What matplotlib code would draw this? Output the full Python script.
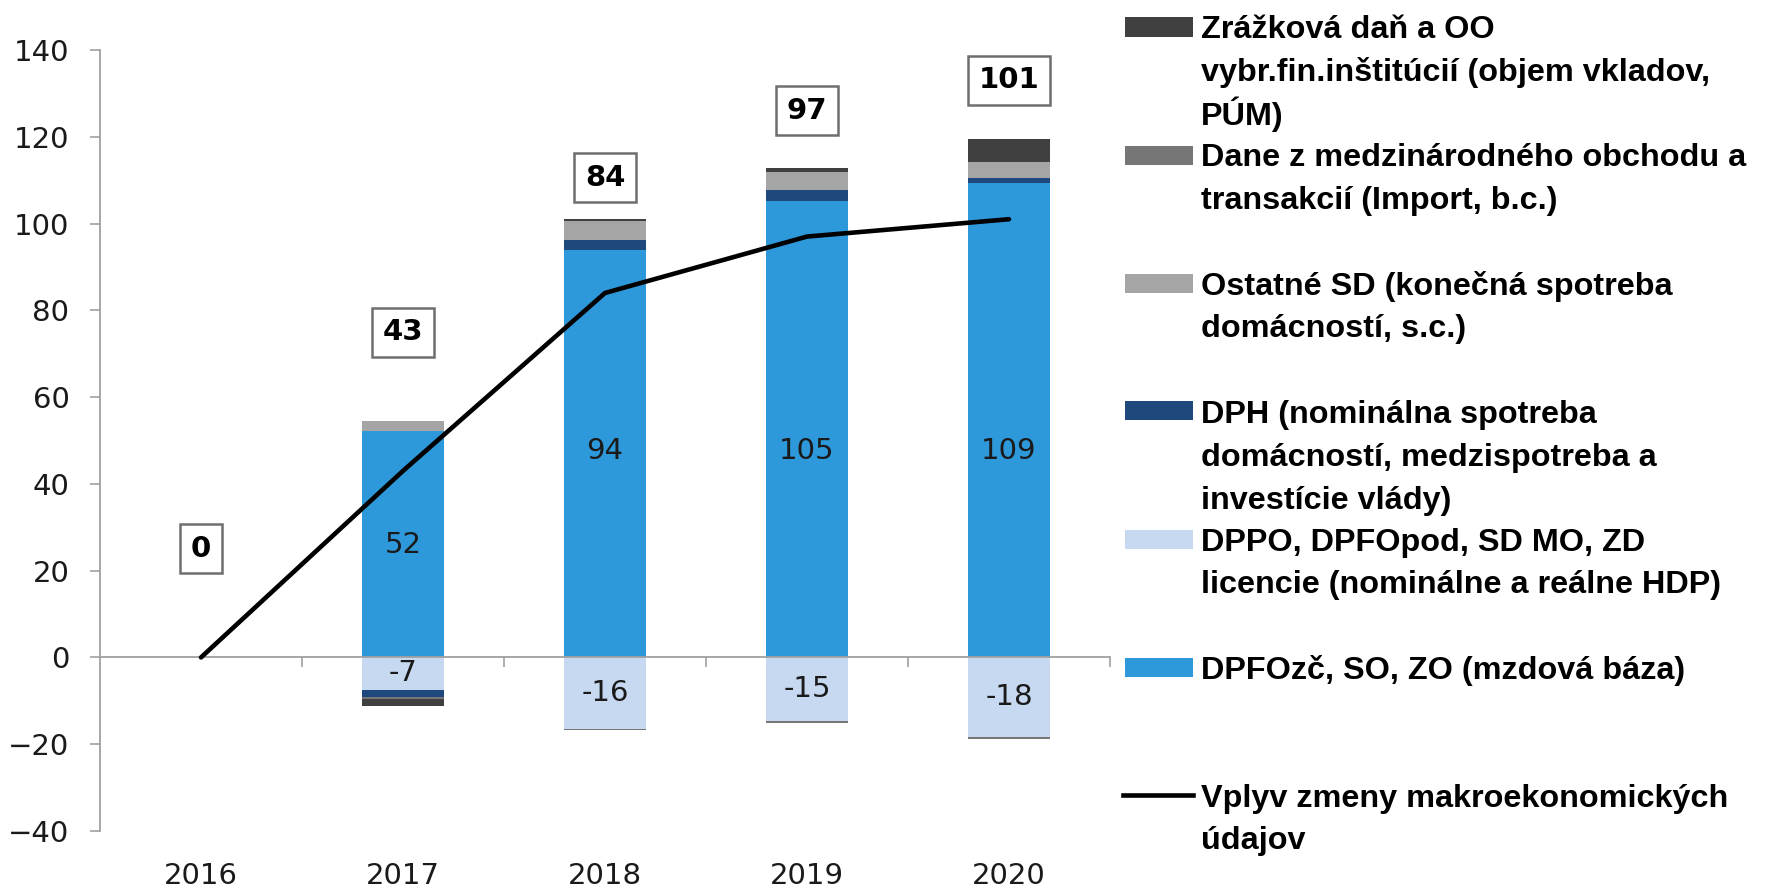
import matplotlib
matplotlib.use("Agg")
import matplotlib.pyplot as plt
from matplotlib.patches import Rectangle
from matplotlib.lines import Line2D
import numpy as np

# ---------------- data ----------------
years = ["2016", "2017", "2018", "2019", "2020"]
mzdova_baza = [0, 52.2, 93.9, 105.1, 109.4]          # DPFOzč, SO, ZO
hdp = [0, -7.4, -16.4, -14.7, -18.4]                   # DPPO, DPFOpod, SD MO, ZD licencie
dph = [0, -1.8, 2.4, 2.7, 1.2]                         # DPH
ostatne_sd = [0, 2.3, 4.4, 4.0, 3.6]                   # Ostatné SD
dane_obchod = [0, -0.4, -0.3, -0.3, -0.3]              # Dane z medzinárodného obchodu
zrazkova = [0, -1.7, 0.3, 0.9, 5.3]                    # Zrážková daň a OO
vplyv = [0, 43, 84, 97, 101]                           # Vplyv zmeny makro údajov
box_label_y = [25, 75, 110.5, 126, 133]
blue_label_y = [None, 26, 47.5, 47.5, 47.5]

legend_labels = {
    "zrazkova": ["Zrážková daň a OO", "vybr.fin.inštitúcií (objem vkladov,", "PÚM)"],
    "dane": ["Dane z medzinárodného obchodu a", "transakcií (Import, b.c.)"],
    "ostatne": ["Ostatné SD (konečná spotreba", "domácností, s.c.)"],
    "dph": ["DPH (nominálna spotreba", "domácností, medzispotreba a", "investície vlády)"],
    "hdp": ["DPPO, DPFOpod, SD MO, ZD", "licencie (nominálne a reálne HDP)"],
    "mzdy": ["DPFOzč, SO, ZO (mzdová báza)"],
    "line": ["Vplyv zmeny makroekonomických", "údajov"],
}

c_blue = "#2D98DA"
c_light = "#C6D9F1"
c_dph = "#1F497D"
c_ost = "#A5A5A5"
c_dane = "#767676"
c_zraz = "#404040"
axis_col = "#A0A0A0"
txt_col = "#1a1a1a"

W, H = 1773, 892
fig = plt.figure(figsize=(W / 100, H / 100), dpi=100)
ax = fig.add_axes([100 / W, 1 - 831 / H, 1010 / W, 781 / H])

x = np.arange(len(years))
bw = 0.405

pos_bottom = np.zeros(len(years))
neg_bottom = np.zeros(len(years))
containers = {}
for key, vals, col in [("mzdy", mzdova_baza, c_blue), ("hdp", hdp, c_light),
                       ("dph", dph, c_dph), ("ostatne", ostatne_sd, c_ost),
                       ("dane", dane_obchod, c_dane), ("zrazkova", zrazkova, c_zraz)]:
    v = np.array(vals, dtype=float)
    bottoms = np.where(v >= 0, pos_bottom, neg_bottom)
    containers[key] = ax.bar(x, v, bw, bottom=bottoms, color=col, linewidth=0, zorder=2)
    pos_bottom = pos_bottom + np.where(v > 0, v, 0)
    neg_bottom = neg_bottom + np.where(v < 0, v, 0)

# labels of the wage-base series (placed as in the original)
for xi, v, yl in zip(x, mzdova_baza, blue_label_y):
    if v != 0 and yl is not None:
        ax.text(xi, yl, f"{round(v):.0f}", ha="center", va="center",
                fontsize=21, color=txt_col, zorder=5)

labs = ["" if v == 0 else f"{round(v):.0f}" for v in hdp]
ax.bar_label(containers["hdp"], labels=labs, label_type="center",
             fontsize=21, color=txt_col, zorder=5)

ax.plot(x, vplyv, color="black", lw=3.3, zorder=4, solid_capstyle="round")

for xi, v, yl in zip(x, vplyv, box_label_y):
    ax.text(xi, yl, f"{v:.0f}", ha="center", va="center", fontsize=21,
            fontweight="bold", color="black", zorder=6,
            bbox=dict(boxstyle="square,pad=0.36", facecolor="white",
                      edgecolor="#6e6e6e", linewidth=1.8))

ax.set_xlim(-0.5, 4.5)
ax.set_ylim(-40, 140)
ax.set_yticks(np.arange(-40, 141, 20))
ax.set_xticks(x)
ax.set_xticklabels(years)
ax.set_xticks(np.arange(0.5, 4.6, 1.0), minor=True)

for s in ["top", "right"]:
    ax.spines[s].set_visible(False)
ax.spines["left"].set_color(axis_col)
ax.spines["left"].set_linewidth(1.3)
ax.spines["bottom"].set_position(("data", 0))
ax.spines["bottom"].set_color(axis_col)
ax.spines["bottom"].set_linewidth(1.3)

ax.tick_params(axis="y", direction="out", length=7, width=1.2, color=axis_col,
               labelsize=21, labelcolor=txt_col, pad=15)
ax.tick_params(axis="x", which="major", length=0, labelsize=21,
               labelcolor=txt_col, pad=147)
ax.tick_params(axis="x", which="minor", direction="out", length=7.5, width=1.2,
               color=axis_col)

# ---------------- legend ----------------
leg_font = dict(family=["Liberation Sans", "DejaVu Sans"], fontweight="bold")

order = [("zrazkova", c_zraz), ("dane", c_dane), ("ostatne", c_ost), ("dph", c_dph),
         ("hdp", c_light), ("mzdy", c_blue), ("line", None)]
y0 = 27
step = 128
line_gap = 43
for i, (key, col) in enumerate(order):
    cy = y0 + step * i
    if col is not None:
        fig.patches.append(Rectangle((1125 / W, 1 - (cy + 9.5) / H), 68 / W, 19 / H,
                                     transform=fig.transFigure, facecolor=col,
                                     edgecolor="none"))
    else:
        fig.lines.append(Line2D([1123 / W, 1193 / W], [1 - cy / H, 1 - cy / H],
                                transform=fig.transFigure, color="black", lw=3.3))
    for j, line in enumerate(legend_labels[key]):
        base = cy + 11.5 + j * line_gap
        fig.text(1201 / W, 1 - base / H, line, ha="left", va="baseline",
                 fontsize=23.3, color="black", **leg_font)

fig.savefig("out.png", dpi=100)
